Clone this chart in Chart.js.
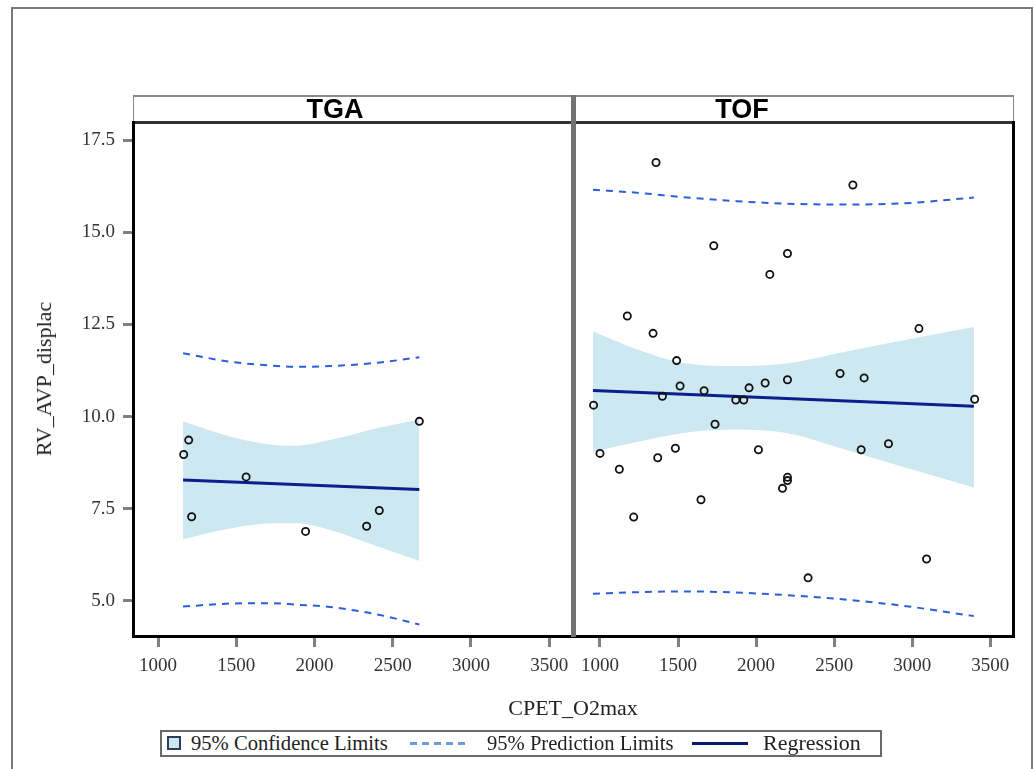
<!DOCTYPE html>
<html><head><meta charset="utf-8">
<script src="https://cdn.jsdelivr.net/npm/chart.js@4.4.1/dist/chart.umd.min.js"></script>
<style>
html,body{margin:0;padding:0;background:#fff;width:1035px;height:769px;overflow:hidden;position:relative;font-family:'Liberation Serif',serif;color:#222;}
.abs{position:absolute;}
#frame{left:11px;top:7px;width:1018px;height:820px;border:2px solid #7a7a7a;}
#hdr{left:133px;top:95px;width:881px;height:29px;box-sizing:border-box;border-top:2px solid #8a8a8a;border-left:1px solid #8a8a8a;border-right:1px solid #8a8a8a;border-bottom:3px solid #333;background:#fff;}
.hlab{top:95px;width:120px;height:27px;line-height:29px;text-align:center;font-family:'Liberation Sans',sans-serif;font-weight:bold;font-size:27px;color:#000;}
#sep{left:571px;top:95px;width:5px;height:542px;background:#737373;}
#rb{left:1012px;top:121px;width:3px;height:517px;background:#000;}
#ytitle{left:44px;top:379px;transform:translate(-50%,-50%) rotate(-90deg);white-space:nowrap;font-size:22px;color:#222;}
#xtitle{left:573px;top:708px;transform:translate(-50%,-50%);white-space:nowrap;font-size:22px;color:#222;}
#legend{left:160px;top:730px;width:722px;height:27px;box-sizing:border-box;border:2px solid #6a6a6a;background:#fff;}
.lt{top:0px;height:23px;line-height:23px;font-size:20px;white-space:nowrap;color:#222;transform-origin:0 50%;}
#sw{left:5px;top:4px;width:14px;height:14px;box-sizing:border-box;border:2px solid #2c3e5c;background:#cde8f0;}
#dash{left:248px;top:10px;width:58px;height:3px;background:repeating-linear-gradient(to right,#6a9be0 0 7px,transparent 7px 12px);}
#solid{left:530px;top:10px;width:56px;height:3px;background:#0a1a6e;}
canvas{position:absolute;}
</style>
</head><body>
<div id="frame" class="abs"></div>
<div id="hdr" class="abs"></div>
<canvas id="cL" width="590" height="596" style="left:0px;top:100px;width:590px;height:596px"></canvas>
<canvas id="cR" width="470" height="596" style="left:560px;top:100px;width:470px;height:596px"></canvas>
<div id="sep" class="abs"></div>
<div id="rb" class="abs"></div>
<div id="hl0" class="abs hlab" style="left:275px"></div>
<div id="hl1" class="abs hlab" style="left:682px"></div>
<div id="ytitle" class="abs">RV_AVP_displac</div>
<div id="xtitle" class="abs">CPET_O2max</div>
<div id="legend" class="abs">
  <div id="sw" class="abs"></div>
  <div class="abs lt" style="left:29px;transform:scaleX(1.03)">95% Confidence Limits</div>
  <div id="dash" class="abs"></div>
  <div class="abs lt" style="left:325px;transform:scaleX(1.03)">95% Prediction Limits</div>
  <div id="solid" class="abs"></div>
  <div class="abs lt" style="left:601px;transform:scaleX(1.1)">Regression</div>
</div>
<script>
// ---- data ----
const panels = ['TGA', 'TOF'];
const xTicks = [1000, 1500, 2000, 2500, 3000, 3500];
const yTicks = [5.0, 7.5, 10.0, 12.5, 15.0, 17.5];

// TGA observations
const tgaX = [1164, 1196, 1215, 1563, 1943, 2333, 2414, 2670];
const tgaY = [8.97, 9.36, 7.28, 8.36, 6.88, 7.02, 7.45, 9.87];
// TGA regression line
const tgaRegX = [1160, 2670];
const tgaRegY = [8.28, 8.02];
// TGA limits
const tgaBandX   = [1160, 1459, 1736, 1885, 2098, 2418, 2670];
const tgaCiUpper = [9.87, 9.46, 9.23, 9.21, 9.36, 9.70, 9.92];
const tgaCiLower = [6.67, 6.96, 7.10, 7.10, 6.92, 6.45, 6.08];
const tgaPiUpper = [11.72, 11.49, 11.38, 11.35, 11.37, 11.47, 11.61];
const tgaPiLower = [4.84, 4.92, 4.93, 4.89, 4.83, 4.61, 4.35];

// TOF observations
const tofX = [1359, 2620, 1729, 2201, 2088, 1175, 1340, 3043, 1491, 2538, 2692, 2201, 2058, 1955, 1513, 1667, 1400, 1870, 1921, 959, 3400, 1737, 2848, 1000, 1483, 2015, 2673, 1370, 1124, 2201, 2201, 2169, 1647, 1216, 3092, 2333];
const tofY = [16.90, 16.29, 14.64, 14.43, 13.86, 12.73, 12.26, 12.39, 11.52, 11.17, 11.05, 11.00, 10.91, 10.78, 10.83, 10.70, 10.55, 10.45, 10.45, 10.31, 10.47, 9.79, 9.26, 9.00, 9.14, 9.10, 9.10, 8.88, 8.57, 8.35, 8.26, 8.05, 7.74, 7.27, 6.13, 5.62];
// TOF regression line
const tofRegX = [955, 3395];
const tofRegY = [10.71, 10.28];
// TOF limits
const tofBandX   = [955, 1235, 1556, 1876, 2197, 2517, 2944, 3395];
const tofCiUpper = [12.32, 11.83, 11.44, 11.37, 11.44, 11.71, 12.07, 12.43];
const tofCiLower = [9.04, 9.31, 9.57, 9.65, 9.55, 9.17, 8.63, 8.07];
const tofPiUpper = [16.16, 16.08, 15.95, 15.85, 15.78, 15.76, 15.79, 15.95];
const tofPiLower = [5.19, 5.23, 5.25, 5.22, 5.15, 5.05, 4.86, 4.58];

// ---- rendering ----
document.getElementById('hl0').textContent = panels[0];
document.getElementById('hl1').textContent = panels[1];

Chart.defaults.font.family = "'Liberation Serif', serif";

const X_MIN = 840, X_MAX = 3652, Y_MIN = 4.04, Y_MAX = 18.0;
const pts = (xs, ys) => xs.map((x, i) => ({ x: x, y: ys[i] }));

function panelDatasets(px, py, rx, ry, bx, ciU, ciL, piU, piL) {
  const dashStyle = { showLine: true, borderColor: '#2b5fd9', borderWidth: 2, borderDash: [7, 6], pointRadius: 0, fill: false, cubicInterpolationMode: 'monotone' };
  return [
    { label: 'obs', data: pts(px, py), showLine: false, pointRadius: 3.6, pointHoverRadius: 3.6, pointBorderWidth: 1.8, pointBorderColor: '#111', pointBackgroundColor: 'rgba(255,255,255,0)', order: 0 },
    { label: 'Regression', data: pts(rx, ry), showLine: true, borderColor: '#0b1f8c', borderWidth: 3, pointRadius: 0, fill: false, order: 1 },
    Object.assign({ label: 'PI upper', data: pts(bx, piU), order: 2 }, dashStyle),
    Object.assign({ label: 'PI lower', data: pts(bx, piL), order: 2 }, dashStyle),
    { label: 'CI upper', data: pts(bx, ciU), showLine: true, borderWidth: 0, borderColor: 'rgba(0,0,0,0)', backgroundColor: '#cde8f0', fill: '+1', pointRadius: 0, cubicInterpolationMode: 'monotone', order: 3 },
    { label: 'CI lower', data: pts(bx, ciL), showLine: true, borderWidth: 0, borderColor: 'rgba(0,0,0,0)', backgroundColor: '#cde8f0', fill: false, pointRadius: 0, cubicInterpolationMode: 'monotone', order: 4 }
  ];
}

function xScale() {
  return {
    type: 'linear', min: X_MIN, max: X_MAX,
    afterBuildTicks: s => { s.ticks = xTicks.map(v => ({ value: v })); },
    afterFit: s => { s.height = 60; },
    grid: { drawOnChartArea: false, drawTicks: true, tickLength: 11, tickWidth: 3, tickColor: '#808080' },
    border: { display: true, color: '#000', width: 3 },
    ticks: { font: { size: 19 }, color: '#333', padding: 8, maxRotation: 0, autoSkip: false, callback: v => String(v) }
  };
}

function makeChart(id, ds, showY, pad) {
  return new Chart(document.getElementById(id), {
    type: 'line',
    data: { datasets: ds },
    options: {
      responsive: false, animation: false, devicePixelRatio: 1,
      layout: { padding: pad },
      plugins: { legend: { display: false }, tooltip: { enabled: false } },
      scales: {
        x: xScale(),
        y: {
          type: 'linear', min: Y_MIN, max: Y_MAX, display: showY,
          afterBuildTicks: s => { s.ticks = yTicks.map(v => ({ value: v })); },
          afterFit: s => { s.width = showY ? 133 : 0; },
          grid: { drawOnChartArea: false, drawTicks: true, tickLength: 10, tickWidth: 3, tickColor: '#808080' },
          border: { display: true, color: '#000', width: 3 },
          ticks: { font: { size: 19 }, color: '#333', padding: 8, callback: v => Number(v).toFixed(1) }
        }
      }
    }
  });
}

makeChart('cL', panelDatasets(tgaX, tgaY, tgaRegX, tgaRegY, tgaBandX, tgaCiUpper, tgaCiLower, tgaPiUpper, tgaPiLower), true, { top: 22, right: 17, left: 0, bottom: 0 });
makeChart('cR', panelDatasets(tofX, tofY, tofRegX, tofRegY, tofBandX, tofCiUpper, tofCiLower, tofPiUpper, tofPiLower), false, { top: 22, right: 16, left: 15, bottom: 0 });
</script>
</body></html>
